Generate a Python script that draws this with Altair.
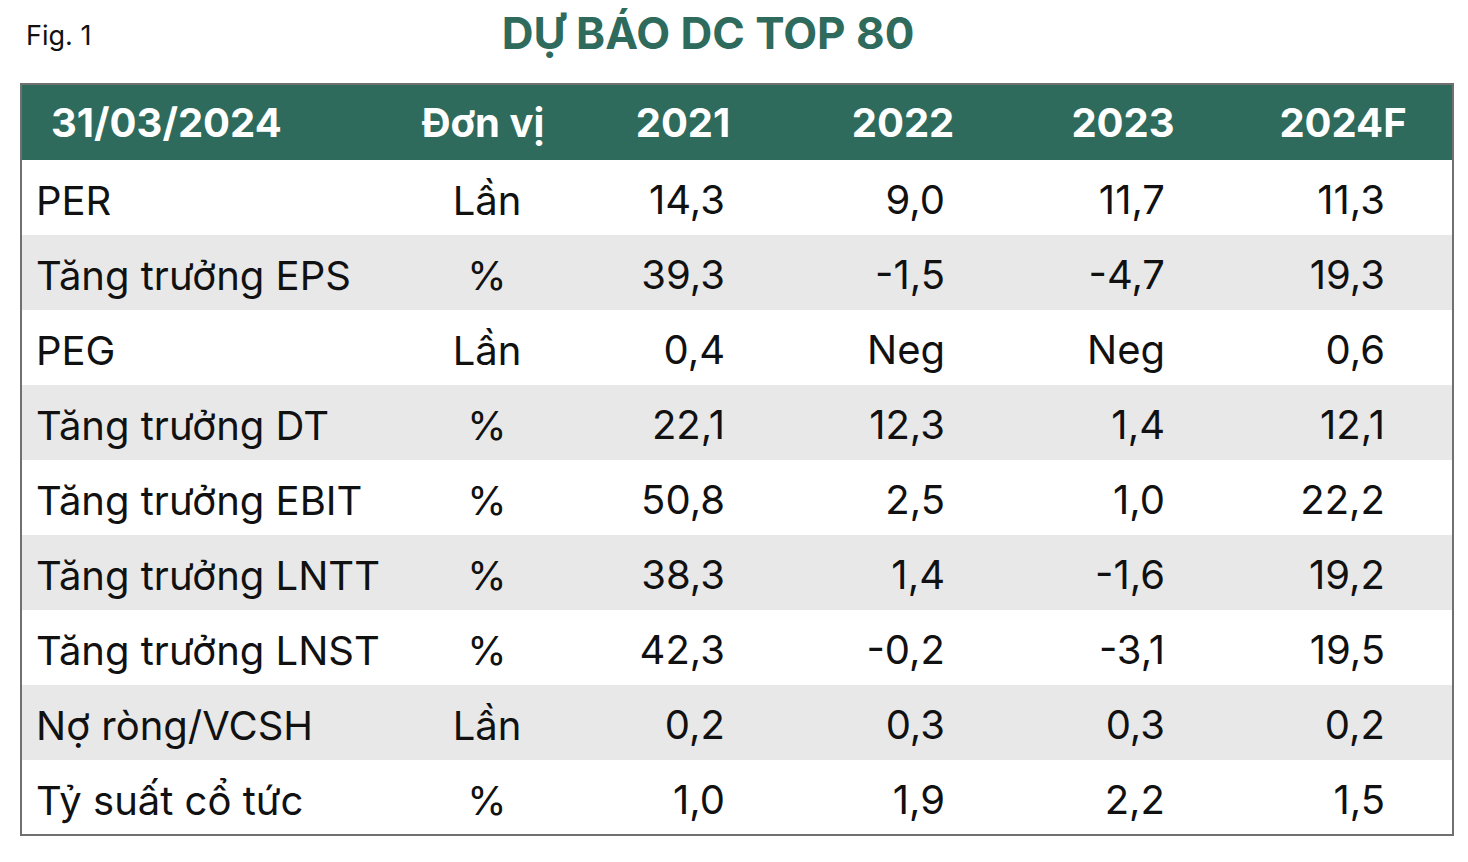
import altair as alt
import pandas as pd

title_text = "DỰ BÁO DC TOP 80"
fig_label = "Fig. 1"
header_date = "31/03/2024"
header_unit = "Đơn vị"
years = ["2021", "2022", "2023", "2024F"]
metrics = ["PER", "Tăng trưởng EPS", "PEG", "Tăng trưởng DT", "Tăng trưởng EBIT",
           "Tăng trưởng LNTT", "Tăng trưởng LNST", "Nợ ròng/VCSH", "Tỷ suất cổ tức"]
units = ["Lần", "%", "Lần", "%", "%", "%", "%", "Lần", "%"]
v2021 = ["14,3", "39,3", "0,4", "22,1", "50,8", "38,3", "42,3", "0,2", "1,0"]
v2022 = ["9,0", "-1,5", "Neg", "12,3", "2,5", "1,4", "-0,2", "0,3", "1,9"]
v2023 = ["11,7", "-4,7", "Neg", "1,4", "1,0", "-1,6", "-3,1", "0,3", "2,2"]
v2024 = ["11,3", "19,3", "0,6", "12,1", "22,2", "19,2", "19,5", "0,2", "1,5"]

GREEN = "#2e6b5c"
GREY = "#e8e8e8"
FONT = "Inter"
FS = 40

rows = pd.DataFrame({
    "metric": metrics,
    "unit": units,
    "row": list(range(len(metrics))),
})
rows["row_end"] = rows["row"] + 1
rows["row_mid"] = rows["row"] + 0.5
rows["shade"] = rows["row"] % 2 == 1

cols = {"2021": v2021, "2022": v2022, "2023": v2023, "2024F": v2024}
long_records = []
for i, m in enumerate(metrics):
    for y in years:
        long_records.append({"metric": m, "year": y, "value": cols[y][i], "row_mid": i + 0.5})
vals = pd.DataFrame(long_records)
hdr = pd.DataFrame({"year": years})
single = pd.DataFrame({"title": [title_text], "fig": [fig_label],
                       "date": [header_date], "unit": [header_unit]})

yscale = alt.Scale(domain=[0, len(metrics)], range=[152, 827], nice=False, zero=False)
xscale = alt.Scale(domain=years, range=[717, 1377], padding=0)

shade = alt.Chart(rows).transform_filter("datum.shade").mark_rect(color=GREY).encode(
    x=alt.value(13), x2=alt.value(1445),
    y=alt.Y("row:Q", scale=yscale, axis=None), y2="row_end:Q",
)

header_bg = alt.Chart(single).mark_rect(color=GREEN).encode(
    x=alt.value(13), x2=alt.value(1445), y=alt.value(76), y2=alt.value(152)
)

border = alt.Chart(single).mark_rect(filled=False, stroke="#707070", strokeWidth=2).encode(
    x=alt.value(13), x2=alt.value(1445), y=alt.value(76), y2=alt.value(827)
)

metric_txt = alt.Chart(rows).mark_text(align="left", baseline="middle", font=FONT,
                                       fontSize=FS, color="#111111", dy=5).encode(
    x=alt.value(28), y=alt.Y("row_mid:Q", scale=yscale, axis=None), text="metric:N"
)
unit_txt = alt.Chart(rows).mark_text(align="center", baseline="middle", font=FONT,
                                     fontSize=FS, color="#111111", dy=5).encode(
    x=alt.value(479), y=alt.Y("row_mid:Q", scale=yscale, axis=None), text="unit:N"
)
val_txt = alt.Chart(vals).mark_text(align="right", baseline="middle", font=FONT,
                                    fontSize=FS, color="#111111", dy=4).encode(
    x=alt.X("year:N", scale=xscale, axis=None),
    y=alt.Y("row_mid:Q", scale=yscale, axis=None), text="value:N"
)
hdr_year = alt.Chart(hdr).mark_text(align="center", baseline="middle", font=FONT,
                                    fontSize=FS, fontWeight="bold", color="white", dx=-42).encode(
    x=alt.X("year:N", scale=xscale, axis=None), y=alt.value(117), text="year:N"
)
hdr_date = alt.Chart(single).mark_text(align="left", baseline="middle", font=FONT,
                                       fontSize=FS, fontWeight="bold", color="white").encode(
    x=alt.value(43), y=alt.value(117), text="date:N"
)
hdr_unit = alt.Chart(single).mark_text(align="center", baseline="middle", font=FONT,
                                       fontSize=FS, fontWeight="bold", color="white").encode(
    x=alt.value(475), y=alt.value(117), text="unit:N"
)
title_txt = alt.Chart(single).mark_text(align="center", baseline="middle", font=FONT,
                                        fontSize=44, fontWeight="bold", color=GREEN).encode(
    x=alt.value(700), y=alt.value(28), text="title:N"
)
fig_txt = alt.Chart(single).mark_text(align="left", baseline="middle", font=FONT,
                                      fontSize=27, color="#111111").encode(
    x=alt.value(18), y=alt.value(29), text="fig:N"
)

chart = alt.layer(
    shade, header_bg, border, metric_txt, unit_txt, val_txt,
    hdr_year, hdr_date, hdr_unit, title_txt, fig_txt
).properties(width=1450, height=840, padding=0, background="white").configure_view(stroke=None)

chart.save("out.html", embed_options={"renderer": "svg", "actions": False})
